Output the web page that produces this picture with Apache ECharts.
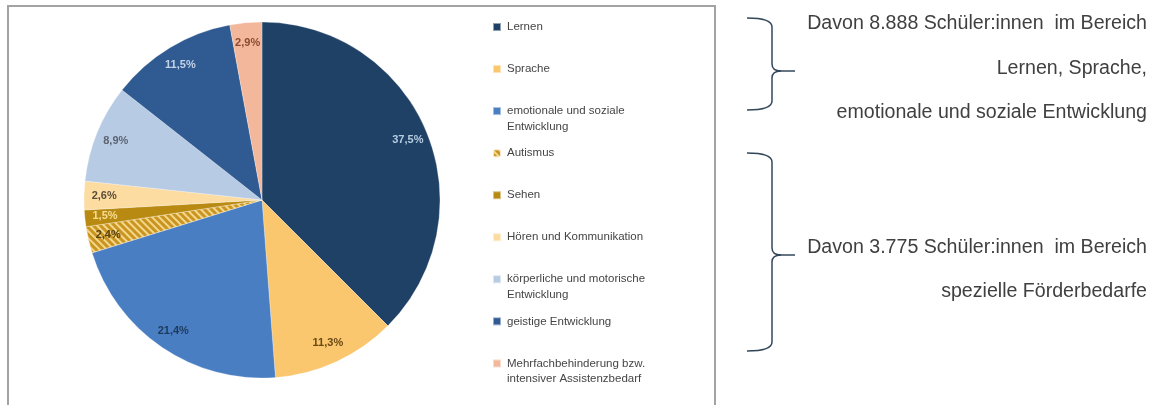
<!DOCTYPE html>
<html>
<head>
<meta charset="utf-8">
<script src="https://cdn.jsdelivr.net/npm/echarts@6/dist/echarts.min.js"></script>
<style>
html,body{margin:0;padding:0;background:#fff;}
#c{width:1158px;height:405px;}
</style>
</head>
<body>
<div id="c"></div>
<script>
// ---- data ----
const categories = [
  'Lernen',
  'Sprache',
  'emotionale und soziale\nEntwicklung',
  'Autismus',
  'Sehen',
  'Hören und Kommunikation',
  'körperliche und motorische\nEntwicklung',
  'geistige Entwicklung',
  'Mehrfachbehinderung bzw.\nintensiver Assistenzbedarf'
];
const shares = [37.5, 11.3, 21.4, 2.4, 1.5, 2.6, 8.9, 11.5, 2.9];
const sideTextUpper = ['Davon 8.888 Schüler:innen  im Bereich', 'Lernen, Sprache,', 'emotionale und soziale Entwicklung'];
const sideTextLower = ['Davon 3.775 Schüler:innen  im Bereich', 'spezielle Förderbedarfe'];

// ---- styles ----
const sliceColors = ['#1f4165', '#fac66e', '#4a7ec2', '#c99520', '#b98a12', '#fcdca0', '#b8cbe4', '#2f5a92', '#f3b79c'];
const labelColors = ['#b7cde2', '#6a4a14', '#1d3a5c', '#5a4510', '#f8dd90', '#5a4c3a', '#5c6472', '#c5d3e8', '#8c4a30'];

const chart = echarts.init(document.getElementById('c'), null, {renderer: 'canvas'});

const fmt = v => v.toFixed(1).replace('.', ',') + '%';
const R = 178;
const center = [262, 200];

const mainData = categories.map((n, i) => {
  const d = {name: n, value: shares[i], itemStyle: {color: sliceColors[i]}};
  if (n === 'Autismus') {
    d.itemStyle.decal = {
      symbol: 'rect', symbolSize: 1,
      dashArrayX: [1, 0], dashArrayY: [2, 3],
      rotation: Math.PI / 4,
      color: 'rgba(248,222,150,0.9)'
    };
  }
  return d;
});
const labelData = categories.map((n, i) => ({
  name: n, value: shares[i],
  label: {color: labelColors[i]}
}));

const LH = 15.5;
const legends = categories.map((n, i) => {
  const twoLines = n.indexOf('\n') >= 0;
  const c = 27 + i * 42.05;
  return {
    data: [{name: n, icon: n === 'Autismus' ? 'roundRect' : 'rect'}],
    orient: 'vertical',
    left: 492,
    top: twoLines ? c - 1.5 * LH : c - 0.5 * LH,
    padding: 0,
    itemWidth: 8, itemHeight: 8,
    selectedMode: false,
    formatter: twoLines ? '\n{name}' : '{name}',
    textStyle: {
      fontFamily: 'Liberation Sans, Arial, sans-serif',
      fontSize: 11.5,
      color: '#454545',
      lineHeight: LH,
      padding: [0, 0, 0, 1]
    }
  };
});

const braceStyle = {fill: 'none', stroke: '#33475b', lineWidth: 1.5};
function brace(top, mid, bottom) {
  const xl = 747, xv = 772, xt = 795;
  const els = [];
  const q = (x1, y1, cx, cy, x2, y2) => els.push({type: 'bezierCurve', silent: true, shape: {x1, y1, x2, y2, cpx1: cx, cpy1: cy}, style: braceStyle});
  const l = (x1, y1, x2, y2) => els.push({type: 'line', silent: true, shape: {x1, y1, x2, y2}, style: braceStyle});
  q(xl, top, xv, top, xv, top + 9);
  l(xv, top + 9, xv, mid - 7);
  q(xv, mid - 7, xv, mid, xv + 9, mid);
  l(xv + 9, mid, xt, mid);
  q(xv + 9, mid, xv, mid, xv, mid + 7);
  l(xv, mid + 7, xv, bottom - 9);
  q(xv, bottom - 9, xv, bottom, xl, bottom);
  return els;
}

const sideFont = '19.6px "Liberation Sans", Arial, sans-serif';
const upperY = [24, 69, 113];
const lowerY = [248, 292];
let graphics = [
  {type: 'rect', shape: {x: 8, y: 6, width: 707, height: 420}, style: {fill: 'none', stroke: '#a3a3a3', lineWidth: 2}, silent: true}
];
graphics = graphics.concat(brace(18, 71, 110), brace(153, 255, 351));
sideTextUpper.forEach((t, i) => graphics.push({
  type: 'text', silent: true, style: {text: t, x: 1147, y: upperY[i], textAlign: 'right', textVerticalAlign: 'middle', font: sideFont, fill: '#404040'}
}));
sideTextLower.forEach((t, i) => graphics.push({
  type: 'text', silent: true, style: {text: t, x: 1147, y: lowerY[i], textAlign: 'right', textVerticalAlign: 'middle', font: sideFont, fill: '#404040'}
}));

chart.setOption({
  backgroundColor: '#ffffff',
  animation: false,
  legend: legends,
  graphic: {elements: graphics},
  series: [
    {
      type: 'pie',
      center: center,
      radius: [0, R],
      startAngle: 90,
      clockwise: true,
      avoidLabelOverlap: false,
      label: {show: false},
      labelLine: {show: false},
      emphasis: {disabled: true},
      itemStyle: {borderColor: 'rgba(255,255,255,0.5)', borderWidth: 0.5},
      data: mainData
    },
    {
      type: 'pie',
      center: center,
      radius: [R * 0.74, R],
      startAngle: 90,
      clockwise: true,
      silent: true,
      legendHoverLink: false,
      avoidLabelOverlap: false,
      itemStyle: {color: 'rgba(0,0,0,0)'},
      labelLine: {show: false},
      label: {
        show: true,
        position: 'inside',
        formatter: p => fmt(p.value),
        fontFamily: 'Liberation Sans, Arial, sans-serif',
        fontWeight: 'bold',
        fontSize: 11
      },
      emphasis: {disabled: true},
      data: labelData
    }
  ]
});
</script>
</body>
</html>
